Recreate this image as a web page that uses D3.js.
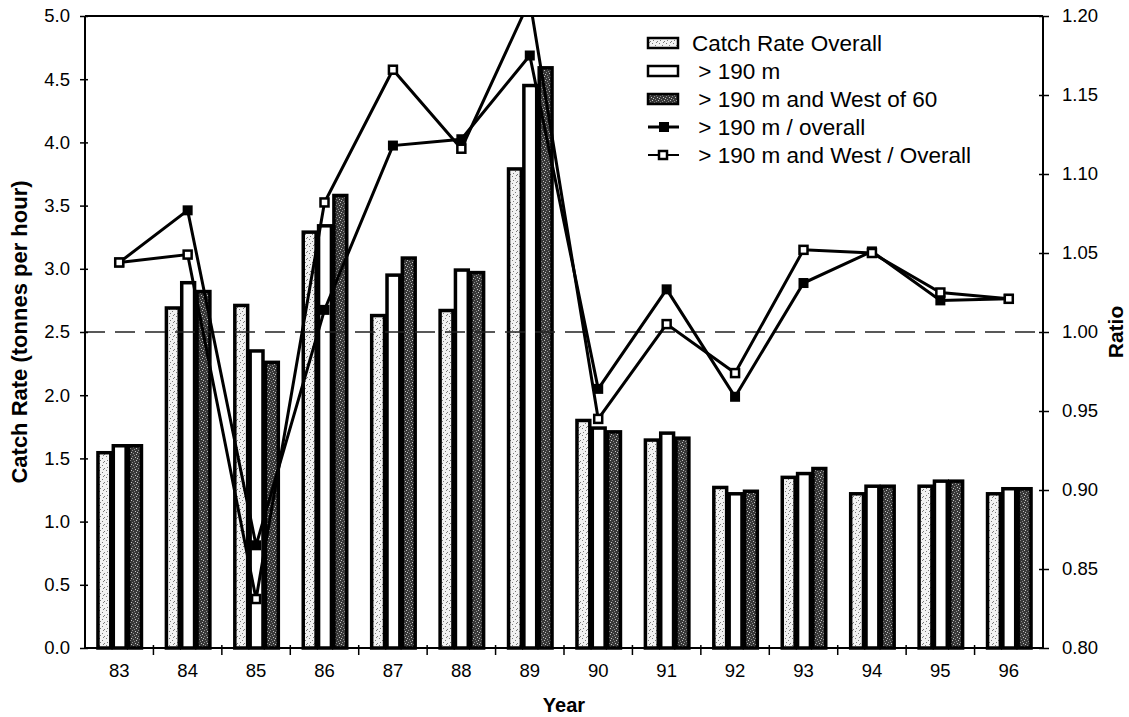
<!DOCTYPE html>
<html><head><meta charset="utf-8">
<script src="https://cdn.jsdelivr.net/npm/d3@7"></script>
<style>
html,body{margin:0;padding:0;background:#fff;}
text{font-family:"Liberation Sans",Arial,sans-serif;fill:#000;}
</style></head>
<body>
<svg id="chart" width="1129" height="717"></svg>
<script>
const years = ["83","84","85","86","87","88","89","90","91","92","93","94","95","96"];
const catchOverall = [1.545,2.69,2.71,3.29,2.63,2.67,3.79,1.80,1.645,1.27,1.35,1.22,1.28,1.22];
const catchDeep    = [1.60,2.89,2.35,3.34,2.95,2.99,4.45,1.74,1.70,1.22,1.38,1.28,1.32,1.26];
const catchDeepWest= [1.60,2.82,2.26,3.58,3.085,2.97,4.59,1.71,1.66,1.24,1.42,1.28,1.32,1.26];
const ratioDeep    = [1.044,1.077,0.865,1.014,1.118,1.122,1.175,0.964,1.027,0.959,1.031,1.051,1.020,1.021];
const ratioDeepWest= [1.044,1.049,0.831,1.082,1.166,1.116,1.21,0.945,1.005,0.974,1.052,1.050,1.025,1.021];
const leftTicks = [0,0.5,1,1.5,2,2.5,3,3.5,4,4.5,5];
const rightTicks = [0.80,0.85,0.90,0.95,1.00,1.05,1.10,1.15,1.20];
const seriesNames = ["Catch Rate Overall","\u00a0> 190 m","\u00a0> 190 m and West of 60","\u00a0> 190 m / overall","\u00a0> 190 m and West / Overall"];

const svg = d3.select("#chart");
const L = 85, R = 1043, T = 16, B = 648;

// patterns
const defs = svg.append("defs");
const pl = defs.append("pattern").attr("id","light").attr("patternUnits","userSpaceOnUse").attr("width",7).attr("height",7);
pl.append("rect").attr("width",7).attr("height",7).attr("fill","#f2f2f2");
[[1,1],[4,3],[2,5],[6,6],[5,0]].forEach(p=>pl.append("rect").attr("x",p[0]).attr("y",p[1]).attr("width",1).attr("height",1).attr("fill","#7a7a7a"));
const pd = defs.append("pattern").attr("id","dark").attr("patternUnits","userSpaceOnUse").attr("width",6).attr("height",6);
pd.append("rect").attr("width",6).attr("height",6).attr("fill","#383838");
[[0,0],[3,1],[1,3],[4,4],[2,5],[5,2]].forEach((p,i)=>pd.append("rect").attr("x",p[0]).attr("y",p[1]).attr("width",1).attr("height",1).attr("fill",i%2?"#c4c4c4":"#8c8c8c"));
defs.append("clipPath").attr("id","plotclip").append("rect").attr("x",L).attr("y",T).attr("width",R-L).attr("height",B-T);

const x0 = d3.scaleBand().domain(years).range([L,R]).padding(0);
const groupW = 46;
const x1 = d3.scaleBand().domain([0,1,2]).range([0,groupW]).padding(0);
const yL = d3.scaleLinear().domain([0,5]).range([B,T]);
const yR = d3.scaleLinear().domain([0.8,1.2]).range([B,T]);

const fills = ["url(#light)","#fff","url(#dark)"];
const barSeries = [catchOverall,catchDeep,catchDeepWest];

// bars
const gBars = svg.append("g");
years.forEach((yr,i)=>{
  barSeries.forEach((s,k)=>{
    const xb = x0(yr) + (x0.bandwidth()-groupW)/2 + x1(k);
    gBars.append("rect")
      .attr("x", xb+1.75).attr("y", yL(s[i]))
      .attr("width", x1.bandwidth()-2.5).attr("height", yL(0)-yL(s[i]))
      .attr("fill", fills[k]).attr("stroke","#000").attr("stroke-width",3.5);
  });
});

// dashed reference line at ratio 1.0
svg.append("line").attr("x1",L).attr("x2",R).attr("y1",yR(1.0)).attr("y2",yR(1.0))
  .attr("stroke","#222").attr("stroke-width",1.6).attr("stroke-dasharray","20,10");

// axes frame
svg.append("line").attr("x1",L).attr("x2",R).attr("y1",T).attr("y2",T).attr("stroke","#000").attr("stroke-width",2);
svg.append("line").attr("x1",L).attr("x2",R).attr("y1",B).attr("y2",B).attr("stroke","#000").attr("stroke-width",2);
svg.append("line").attr("x1",L).attr("x2",L).attr("y1",T).attr("y2",B).attr("stroke","#000").attr("stroke-width",2);
svg.append("line").attr("x1",R).attr("x2",R).attr("y1",T).attr("y2",B).attr("stroke","#000").attr("stroke-width",2);

// left axis
const gl = svg.append("g").attr("transform",`translate(${L},0)`)
  .call(d3.axisLeft(yL).tickValues(leftTicks).tickFormat(d3.format(".1f")).tickSize(5).tickPadding(10));
gl.select(".domain").remove();
gl.selectAll("line").attr("stroke","#000").attr("stroke-width",1.5).attr("x2",-5).attr("x1",3);
gl.selectAll("text").attr("font-size",18.5).style("font-family","Liberation Sans, Arial, sans-serif");

// right axis
const gr = svg.append("g").attr("transform",`translate(${R},0)`)
  .call(d3.axisRight(yR).tickValues(rightTicks).tickFormat(d3.format(".2f")).tickSize(5).tickPadding(14));
gr.select(".domain").remove();
gr.selectAll("line").attr("stroke","#000").attr("stroke-width",1.5).attr("x1",-4).attr("x2",6);
gr.selectAll("text").attr("font-size",18.5).style("font-family","Liberation Sans, Arial, sans-serif");

// bottom axis
const gb = svg.append("g").attr("transform",`translate(0,${B})`)
  .call(d3.axisBottom(x0).tickSize(0).tickPadding(16));
gb.select(".domain").remove();
gb.selectAll("text").attr("font-size",18.5).style("font-family","Liberation Sans, Arial, sans-serif");
years.forEach((yr,i)=>{
  if(i===0) return;
  gb.append("line").attr("x1",x0(yr)).attr("x2",x0(yr)).attr("y1",-3).attr("y2",7).attr("stroke","#000").attr("stroke-width",1.5);
});

// lines
const gLines = svg.append("g").attr("clip-path","url(#plotclip)");
const lineGen = d3.line().x((d,i)=>x0(years[i])+x0.bandwidth()/2).y(d=>yR(d));
gLines.append("path").datum(ratioDeep).attr("d",lineGen).attr("fill","none").attr("stroke","#000").attr("stroke-width",3);
gLines.append("path").datum(ratioDeepWest).attr("d",lineGen).attr("fill","none").attr("stroke","#000").attr("stroke-width",3);
const ms = 10;
gLines.selectAll(".mDeep").data(ratioDeep).enter().append("rect")
  .attr("x",(d,i)=>x0(years[i])+x0.bandwidth()/2-ms/2).attr("y",d=>yR(d)-ms/2)
  .attr("width",ms).attr("height",ms).attr("fill","#000");
gLines.selectAll(".mWest").data(ratioDeepWest).enter().append("rect")
  .attr("x",(d,i)=>x0(years[i])+x0.bandwidth()/2-ms/2+1).attr("y",d=>yR(d)-ms/2+1)
  .attr("width",ms-2).attr("height",ms-2).attr("fill","#fff").attr("stroke","#000").attr("stroke-width",2.5);

// axis titles
svg.append("text").attr("transform",`translate(27,${(T+B)/2}) rotate(-90)`).attr("text-anchor","middle")
  .attr("font-size",22).attr("font-weight","bold").text("Catch Rate (tonnes per hour)");
svg.append("text").attr("transform",`translate(1123,${(T+B)/2}) rotate(-90)`).attr("text-anchor","middle")
  .attr("font-size",21).attr("font-weight","bold").text("Ratio");
svg.append("text").attr("x",(L+R)/2).attr("y",712).attr("text-anchor","middle")
  .attr("font-size",20).attr("font-weight","bold").text("Year");

// legend
const lg = svg.append("g");
const rowY = [43,71,99,127,155];
const lx = 648, tx = 692;
[0,1,2].forEach(k=>{
  lg.append("rect").attr("x",lx).attr("y",rowY[k]-5).attr("width",30).attr("height",10)
    .attr("fill",fills[k]).attr("stroke","#000").attr("stroke-width",2.5);
});
[3,4].forEach(k=>{
  lg.append("line").attr("x1",lx).attr("x2",lx+31).attr("y1",rowY[k]).attr("y2",rowY[k]).attr("stroke","#000").attr("stroke-width",k===3?3:2);
  if(k===3) lg.append("rect").attr("x",lx+11).attr("y",rowY[k]-5).attr("width",10).attr("height",10).attr("fill","#000");
  else lg.append("rect").attr("x",lx+11).attr("y",rowY[k]-4).attr("width",8).attr("height",8).attr("fill","#fff").attr("stroke","#000").attr("stroke-width",2.5);
});
seriesNames.forEach((n,k)=>{
  lg.append("text").attr("x",tx).attr("y",rowY[k]+8).attr("font-size",22.5).text(n);
});
</script>
</body></html>
